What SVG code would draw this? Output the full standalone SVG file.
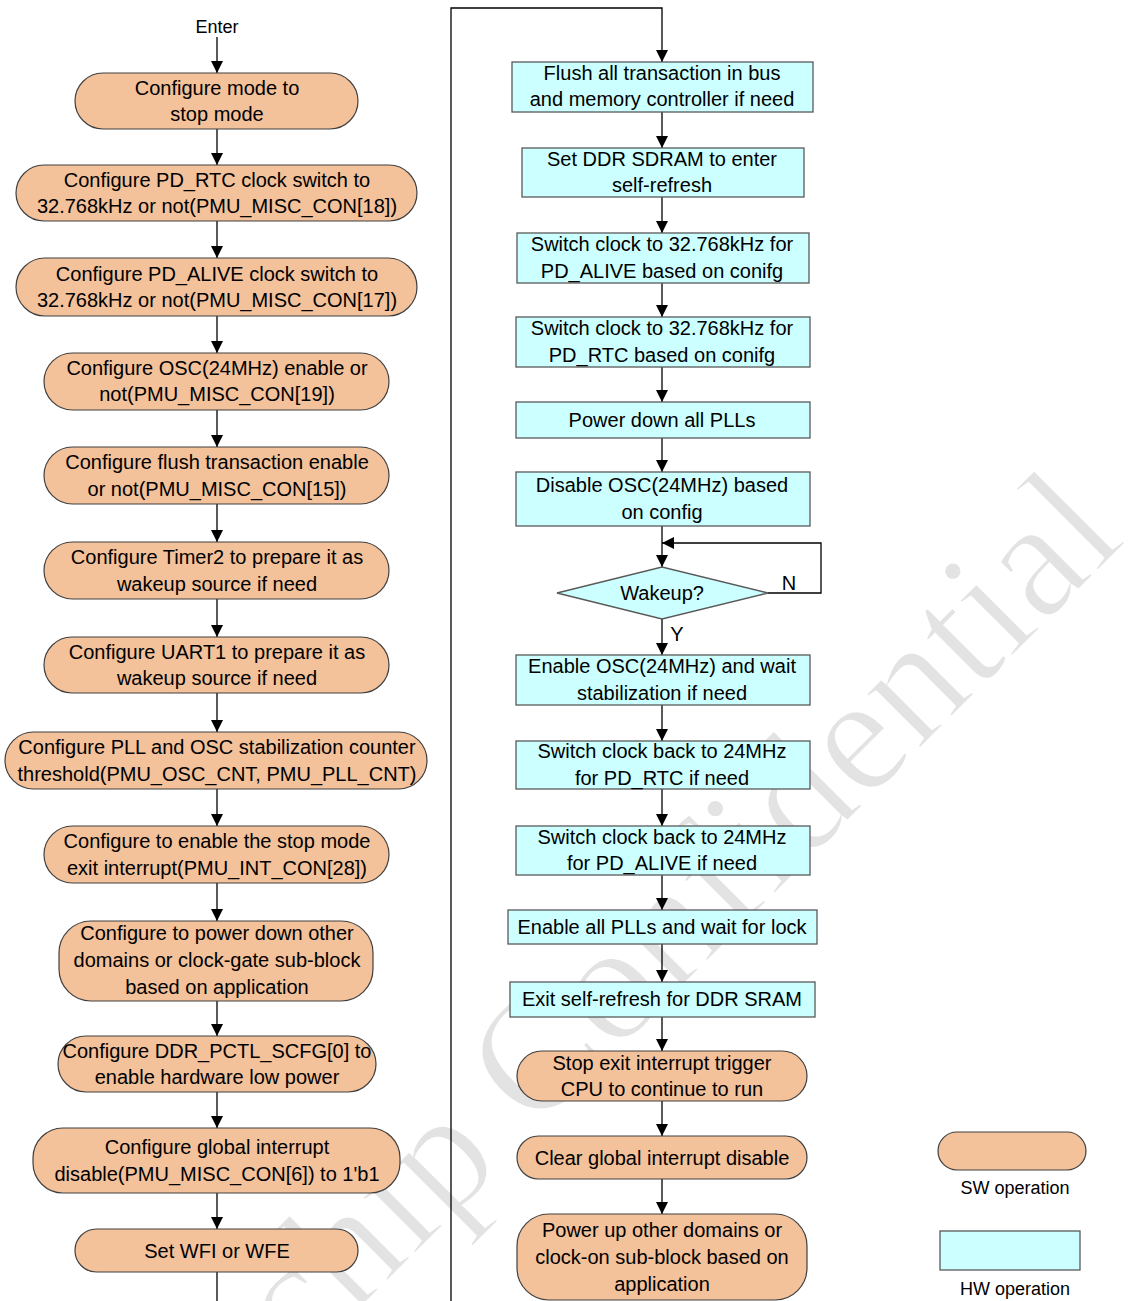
<svg xmlns="http://www.w3.org/2000/svg" width="1131" height="1301" viewBox="0 0 1131 1301">
  <style>
    .sw { fill: #F3C19A; stroke: #404040; stroke-width: 1.2; }
    .hw { fill: #CCFFFF; stroke: #595959; stroke-width: 1.3; }
    .t { font-family: "Liberation Sans", Arial, sans-serif; font-size: 20px; text-anchor: middle; fill: #000; }
    .s { font-family: "Liberation Sans", Arial, sans-serif; font-size: 18px; text-anchor: middle; fill: #000; }
    .c { fill: none; stroke: #000; stroke-width: 1.3; }
    .wm { font-family: "Liberation Serif", "Times New Roman", serif; font-size: 168px; fill: #E3E3E3; stroke: #fff; stroke-width: 2.5; }
  </style>
  <defs>
    <marker id="arr" markerWidth="12" markerHeight="12" refX="12" refY="6" orient="auto" markerUnits="userSpaceOnUse">
      <path d="M0,0 L12,6 L0,12 z" fill="#000"/>
    </marker>
  </defs>

  <rect width="1131" height="1301" fill="#fff"/>

  <!-- background watermark -->
  <text class="wm" transform="rotate(-45)" x="-1110" y="1180">Rockchip Confidential</text>

  <!-- connectors -->
  <g id="connectors">
    <path class="c" d="M217,37 V73" marker-end="url(#arr)"/>
    <path class="c" d="M217,129 V165" marker-end="url(#arr)"/>
    <path class="c" d="M217,221 V258" marker-end="url(#arr)"/>
    <path class="c" d="M217,316 V353" marker-end="url(#arr)"/>
    <path class="c" d="M217,410 V447" marker-end="url(#arr)"/>
    <path class="c" d="M217,504 V542" marker-end="url(#arr)"/>
    <path class="c" d="M217,599 V637" marker-end="url(#arr)"/>
    <path class="c" d="M217,693 V732" marker-end="url(#arr)"/>
    <path class="c" d="M217,789 V826" marker-end="url(#arr)"/>
    <path class="c" d="M217,883 V921" marker-end="url(#arr)"/>
    <path class="c" d="M217,1001 V1036" marker-end="url(#arr)"/>
    <path class="c" d="M217,1092 V1128" marker-end="url(#arr)"/>
    <path class="c" d="M217,1193 V1229" marker-end="url(#arr)"/>
    <path class="c" d="M217,1272 V1301"/>

    <path class="c" d="M451,1301 V8 H662 V62" marker-end="url(#arr)" stroke="#333"/>
    <path class="c" d="M662,112 V148" marker-end="url(#arr)"/>
    <path class="c" d="M662,197 V233" marker-end="url(#arr)"/>
    <path class="c" d="M662,283 V317" marker-end="url(#arr)"/>
    <path class="c" d="M662,367 V402" marker-end="url(#arr)"/>
    <path class="c" d="M662,438 V472" marker-end="url(#arr)"/>
    <path class="c" d="M662,526 V567" marker-end="url(#arr)"/>
    <path class="c" d="M768,593 H821 V543 H662" marker-end="url(#arr)"/>
    <path class="c" d="M662,619 V655" marker-end="url(#arr)"/>
    <path class="c" d="M662,705 V741" marker-end="url(#arr)"/>
    <path class="c" d="M662,789 V826" marker-end="url(#arr)"/>
    <path class="c" d="M662,875 V910" marker-end="url(#arr)"/>
    <path class="c" d="M662,944 V982" marker-end="url(#arr)"/>
    <path class="c" d="M662,1017 V1051" marker-end="url(#arr)"/>
    <path class="c" d="M662,1101 V1136" marker-end="url(#arr)"/>
    <path class="c" d="M662,1179 V1214" marker-end="url(#arr)"/>

    <text class="t" x="789" y="590">N</text>
    <text class="t" x="677" y="641">Y</text>
  </g>

  <!-- entry label -->
  <g id="enter">
    <text class="s" x="217" y="33">Enter</text>
  </g>

  <!-- software steps (left column) -->
  <g id="sw1">
    <rect class="sw" x="75" y="73" width="283" height="56" rx="28"/>
    <text class="t" x="217" y="95">Configure mode to</text>
    <text class="t" x="217" y="121">stop mode</text>
  </g>
  <g id="sw2">
    <rect class="sw" x="16" y="165" width="401" height="56" rx="28"/>
    <text class="t" x="217" y="187">Configure PD_RTC clock switch to</text>
    <text class="t" x="217" y="213">32.768kHz or not(PMU_MISC_CON[18])</text>
  </g>
  <g id="sw3">
    <rect class="sw" x="16" y="258" width="401" height="58" rx="29"/>
    <text class="t" x="217" y="281">Configure PD_ALIVE clock switch to</text>
    <text class="t" x="217" y="307">32.768kHz or not(PMU_MISC_CON[17])</text>
  </g>
  <g id="sw4">
    <rect class="sw" x="44" y="353" width="345" height="57" rx="28.5"/>
    <text class="t" x="217" y="375">Configure OSC(24MHz) enable or</text>
    <text class="t" x="217" y="401">not(PMU_MISC_CON[19])</text>
  </g>
  <g id="sw5">
    <rect class="sw" x="44" y="447" width="345" height="57" rx="28.5"/>
    <text class="t" x="217" y="469">Configure flush transaction enable</text>
    <text class="t" x="217" y="496">or not(PMU_MISC_CON[15])</text>
  </g>
  <g id="sw6">
    <rect class="sw" x="44" y="542" width="345" height="57" rx="28.5"/>
    <text class="t" x="217" y="564">Configure Timer2 to prepare it as</text>
    <text class="t" x="217" y="591">wakeup source if need</text>
  </g>
  <g id="sw7">
    <rect class="sw" x="44" y="637" width="345" height="56" rx="28"/>
    <text class="t" x="217" y="659">Configure UART1 to prepare it as</text>
    <text class="t" x="217" y="685">wakeup source if need</text>
  </g>
  <g id="sw8">
    <rect class="sw" x="5" y="732" width="422" height="57" rx="28.5"/>
    <text class="t" x="217" y="754">Configure PLL and OSC stabilization counter</text>
    <text class="t" x="217" y="781">threshold(PMU_OSC_CNT, PMU_PLL_CNT)</text>
  </g>
  <g id="sw9">
    <rect class="sw" x="44" y="826" width="345" height="57" rx="28.5"/>
    <text class="t" x="217" y="848">Configure to enable the stop mode</text>
    <text class="t" x="217" y="875">exit interrupt(PMU_INT_CON[28])</text>
  </g>
  <g id="sw10">
    <rect class="sw" x="59" y="921" width="314" height="80" rx="32"/>
    <text class="t" x="217" y="940">Configure to power down other</text>
    <text class="t" x="217" y="967">domains or clock-gate sub-block</text>
    <text class="t" x="217" y="994">based on application</text>
  </g>
  <g id="sw11">
    <rect class="sw" x="58" y="1036" width="318" height="56" rx="28"/>
    <text class="t" x="217" y="1058">Configure DDR_PCTL_SCFG[0] to</text>
    <text class="t" x="217" y="1084">enable hardware low power</text>
  </g>
  <g id="sw12">
    <rect class="sw" x="33" y="1128" width="367" height="65" rx="30"/>
    <text class="t" x="217" y="1154">Configure global interrupt</text>
    <text class="t" x="217" y="1181">disable(PMU_MISC_CON[6]) to 1'b1</text>
  </g>
  <g id="sw13">
    <rect class="sw" x="75" y="1229" width="283" height="43" rx="21.5"/>
    <text class="t" x="217" y="1258">Set WFI or WFE</text>
  </g>

  <!-- hardware steps (right column) -->
  <g id="hw1">
    <rect class="hw" x="512" y="62" width="301" height="50"/>
    <text class="t" x="662" y="80">Flush all transaction in bus</text>
    <text class="t" x="662" y="106">and memory controller if need</text>
  </g>
  <g id="hw2">
    <rect class="hw" x="522" y="148" width="282" height="49"/>
    <text class="t" x="662" y="166">Set DDR SDRAM to enter</text>
    <text class="t" x="662" y="192">self-refresh</text>
  </g>
  <g id="hw3">
    <rect class="hw" x="517" y="233" width="292" height="50"/>
    <text class="t" x="662" y="251">Switch clock to 32.768kHz for</text>
    <text class="t" x="662" y="278">PD_ALIVE based on conifg</text>
  </g>
  <g id="hw4">
    <rect class="hw" x="516" y="317" width="294" height="50"/>
    <text class="t" x="662" y="335">Switch clock to 32.768kHz for</text>
    <text class="t" x="662" y="362">PD_RTC based on conifg</text>
  </g>
  <g id="hw5">
    <rect class="hw" x="516" y="402" width="294" height="36"/>
    <text class="t" x="662" y="427">Power down all PLLs</text>
  </g>
  <g id="hw6">
    <rect class="hw" x="516" y="472" width="294" height="54"/>
    <text class="t" x="662" y="492">Disable OSC(24MHz) based</text>
    <text class="t" x="662" y="519">on config</text>
  </g>
  <g id="wakeup">
    <path class="hw" d="M557,593 L662,567 L768,593 L662,619 Z"/>
    <text class="t" x="662" y="600">Wakeup?</text>
  </g>
  <g id="hw7">
    <rect class="hw" x="516" y="655" width="294" height="50"/>
    <text class="t" x="662" y="673">Enable OSC(24MHz) and wait</text>
    <text class="t" x="662" y="700">stabilization if need</text>
  </g>
  <g id="hw8">
    <rect class="hw" x="516" y="741" width="294" height="48"/>
    <text class="t" x="662" y="758">Switch clock back to 24MHz</text>
    <text class="t" x="662" y="785">for PD_RTC if need</text>
  </g>
  <g id="hw9">
    <rect class="hw" x="516" y="826" width="294" height="49"/>
    <text class="t" x="662" y="844">Switch clock back to 24MHz</text>
    <text class="t" x="662" y="870">for PD_ALIVE if need</text>
  </g>
  <g id="hw10">
    <rect class="hw" x="508" y="910" width="309" height="34"/>
    <text class="t" x="662" y="934">Enable all PLLs and wait for lock</text>
  </g>
  <g id="hw11">
    <rect class="hw" x="510" y="982" width="305" height="35"/>
    <text class="t" x="662" y="1006">Exit self-refresh for DDR SRAM</text>
  </g>

  <!-- software steps after wakeup -->
  <g id="sw14">
    <rect class="sw" x="517" y="1051" width="290" height="50" rx="25"/>
    <text class="t" x="662" y="1070">Stop exit interrupt trigger</text>
    <text class="t" x="662" y="1096">CPU to continue to run</text>
  </g>
  <g id="sw15">
    <rect class="sw" x="517" y="1136" width="290" height="43" rx="21.5"/>
    <text class="t" x="662" y="1165">Clear global interrupt disable</text>
  </g>
  <g id="sw16">
    <rect class="sw" x="517" y="1214" width="290" height="86" rx="32"/>
    <text class="t" x="662" y="1237">Power up other domains or</text>
    <text class="t" x="662" y="1264">clock-on sub-block based on</text>
    <text class="t" x="662" y="1291">application</text>
  </g>

  <!-- legend -->
  <g id="legend-sw">
    <rect class="sw" x="938" y="1132" width="148" height="38" rx="19"/>
    <text class="s" x="1015" y="1194">SW operation</text>
  </g>
  <g id="legend-hw">
    <rect class="hw" x="940" y="1231" width="140" height="39"/>
    <text class="s" x="1015" y="1295">HW operation</text>
  </g>
</svg>
